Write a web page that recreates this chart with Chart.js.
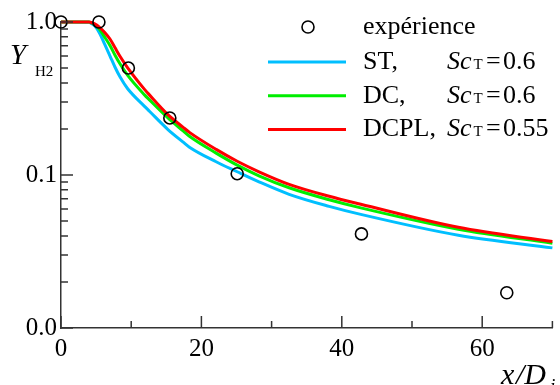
<!DOCTYPE html>
<html><head><meta charset="utf-8">
<script src="https://cdn.jsdelivr.net/npm/chart.js@4/dist/chart.umd.min.js"></script>
<style>html,body{margin:0;padding:0;background:#fff;}#wrap{width:560px;height:385px;}</style>
</head><body><div id="wrap"><canvas id="c" width="560" height="385"></canvas></div>
<script>
// experiment (circles)
const expX = [0, 5.4, 9.6, 15.5, 25.1, 42.8, 63.5];
const expY = [1.0, 1.0, 0.50, 0.236, 0.102, 0.0412, 0.0170];
// simulations
const simX  = [0, 4.0, 4.4, 4.8, 5.5, 6.2, 7.0, 7.7, 8.4, 9.5, 11.9, 12.6, 15.2, 17.4, 18.3, 22.1, 25.1, 28.2, 32.5, 38.2, 42.7, 56.6, 70];
const stY   = [1, 0.997, 0.973, 0.944, 0.844, 0.720, 0.597, 0.506, 0.438, 0.366, 0.281, 0.261, 0.199, 0.164, 0.152, 0.122, 0.105, 0.0903, 0.0748, 0.0624, 0.0553, 0.0404, 0.0334];
const dcY   = [1, 1, 0.985, 0.959, 0.896, 0.800, 0.699, 0.606, 0.533, 0.448, 0.334, 0.310, 0.237, 0.194, 0.179, 0.139, 0.116, 0.0988, 0.0825, 0.0689, 0.0610, 0.0442, 0.0358];
const dcplY = [1, 1, 0.988, 0.973, 0.923, 0.856, 0.771, 0.678, 0.597, 0.502, 0.363, 0.334, 0.249, 0.205, 0.190, 0.147, 0.123, 0.105, 0.0869, 0.0726, 0.0644, 0.0455, 0.0367];
const yTickLabels = {"1": "1.0", "0.1": "0.1", "0.01": "0.0"};
const xTickLabels = [0, 20, 40, 60];
const legendRows = [
  {name: "ST,", sc: "0.6", color: "#00BFFF"},
  {name: "DC,", sc: "0.6", color: "#00EE00"},
  {name: "DCPL,", sc: "0.55", color: "#FF0000"}
];

const pts = (xs, ys) => xs.map((x, i) => ({x: x, y: ys[i]}));
const SERIF = "'Liberation Serif', 'Times New Roman', serif";

const decor = {
  id: 'decor',
  afterDraw(chart) {
    const ctx = chart.ctx;
    const xs = chart.scales.x, ys = chart.scales.y;
    const L = chart.chartArea.left, B = chart.chartArea.bottom;
    ctx.save();
    ctx.strokeStyle = '#333';
    ctx.lineWidth = 1.5;
    ctx.beginPath();
    // y ticks (inside)
    [0.01, 0.1, 1].forEach(d => {
      const py = ys.getPixelForValue(d);
      ctx.moveTo(L, py); ctx.lineTo(L + 12, py);
      if (d < 1) for (let k = 2; k <= 9; k++) {
        const p = ys.getPixelForValue(k * d);
        ctx.moveTo(L, p); ctx.lineTo(L + 7, p);
      }
    });
    // x ticks (inside)
    for (let v = 0; v <= 70; v += 10) {
      const px = xs.getPixelForValue(v);
      const len = (v % 20 === 0) ? 12 : 7;
      ctx.moveTo(px, B); ctx.lineTo(px, B - len);
    }
    ctx.stroke();

    // axis titles
    ctx.fillStyle = '#000';
    ctx.textBaseline = 'alphabetic';
    ctx.textAlign = 'left';
    ctx.font = 'italic 29px ' + SERIF;
    ctx.fillText('Y', 10, 64);
    ctx.font = '15px ' + SERIF;
    ctx.fillText('H2', 35, 76);

    ctx.font = 'italic 30px ' + SERIF;
    ctx.fillText('x', 501, 384);
    ctx.fillText('/D', 516, 384);
    ctx.font = 'italic 19px ' + SERIF;
    ctx.fillText('j', 550, 392);

    // legend
    ctx.beginPath();
    ctx.lineWidth = 1.6;
    ctx.strokeStyle = '#000';
    ctx.arc(308, 27, 6, 0, Math.PI * 2);
    ctx.stroke();
    ctx.font = '26px ' + SERIF;
    ctx.fillText('expérience', 363, 34);
    legendRows.forEach((r, i) => {
      const y = 62 + i * 33.7;
      const base = y + 7;
      ctx.strokeStyle = r.color;
      ctx.lineWidth = 3;
      ctx.beginPath(); ctx.moveTo(268, y); ctx.lineTo(346, y); ctx.stroke();
      ctx.font = '26px ' + SERIF;
      ctx.fillText(r.name, 363, base);
      ctx.font = 'italic 26px ' + SERIF;
      ctx.fillText('Sc', 447, base);
      const w = ctx.measureText('Sc').width;
      ctx.font = '15px ' + SERIF;
      ctx.fillText('T', 447 + w + 2, base);
      ctx.font = '26px ' + SERIF;
      ctx.fillText('=', 486, base);
      ctx.fillText(r.sc, 503, base);
    });
    ctx.restore();
  }
};

new Chart(document.getElementById('c'), {
  type: 'scatter',
  data: {
    datasets: [
      {label: 'expérience', data: pts(expX, expY), showLine: false, pointStyle: 'circle',
       pointRadius: 6, borderColor: '#000', backgroundColor: 'rgba(0,0,0,0)', borderWidth: 1.6, order: 0},
      {label: 'DCPL', data: pts(simX, dcplY), showLine: true, pointRadius: 0, borderColor: '#FF0000',
       borderWidth: 3, cubicInterpolationMode: 'monotone', order: 1},
      {label: 'DC', data: pts(simX, dcY), showLine: true, pointRadius: 0, borderColor: '#00EE00',
       borderWidth: 3, cubicInterpolationMode: 'monotone', order: 2},
      {label: 'ST', data: pts(simX, stY), showLine: true, pointRadius: 0, borderColor: '#00BFFF',
       borderWidth: 3, cubicInterpolationMode: 'monotone', order: 3}
    ]
  },
  options: {
    responsive: false,
    animation: false,
    clip: false,
    layout: {padding: {top: 22, right: 6, left: 0, bottom: 0}},
    plugins: {legend: {display: false}, tooltip: {enabled: false}},
    scales: {
      x: {
        type: 'linear', min: 0, max: 70,
        grid: {display: true, drawOnChartArea: false, drawTicks: false},
        border: {display: true, color: '#333', width: 1.5},
        ticks: {
          stepSize: 10, autoSkip: false, maxRotation: 0, padding: 6,
          color: '#000', font: {family: SERIF, size: 25},
          callback: v => xTickLabels.includes(v) ? String(v) : ''
        },
        afterFit: s => { s.height = 57; }
      },
      y: {
        type: 'logarithmic', min: 0.01, max: 1,
        grid: {display: true, drawOnChartArea: false, drawTicks: false},
        border: {display: true, color: '#333', width: 1.5},
        ticks: {
          autoSkip: false, padding: 4, color: '#000', font: {family: SERIF, size: 25},
          callback: v => {
            const k = String(Math.round(v * 1e6) / 1e6);
            return yTickLabels[k] !== undefined ? yTickLabels[k] : '';
          }
        },
        afterFit: s => { s.width = 61; }
      }
    }
  },
  plugins: [decor]
});
</script>
</body></html>
